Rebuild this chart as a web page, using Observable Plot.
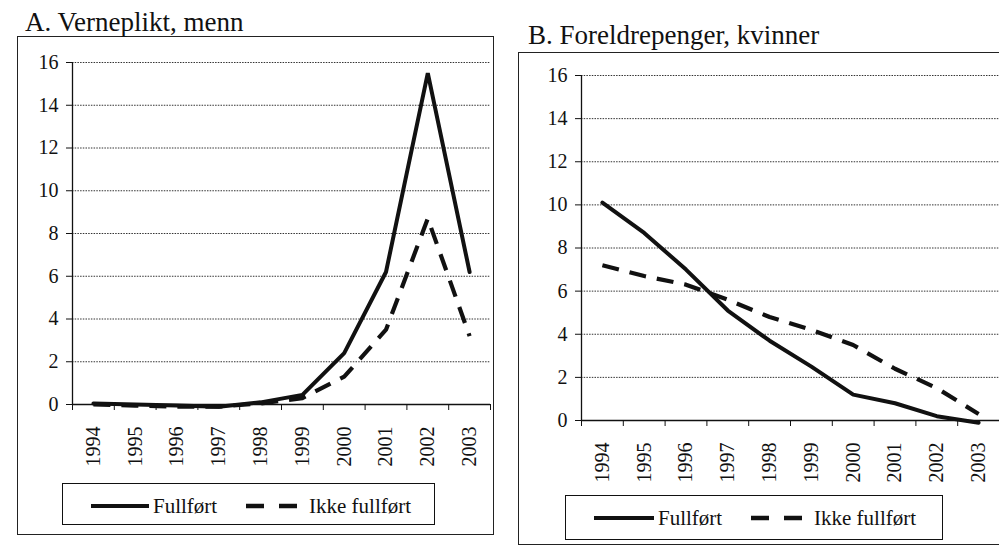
<!DOCTYPE html>
<html><head><meta charset="utf-8">
<script src="https://cdn.jsdelivr.net/npm/d3@7"></script>
<script src="https://cdn.jsdelivr.net/npm/@observablehq/plot@0.6"></script>
<style>
html{overflow:hidden}
html,body{margin:0;padding:0;background:#fff}
body{width:999px;height:548px;overflow:hidden;position:relative;font-family:"Liberation Serif","Times New Roman",serif;color:#111}
.frame{position:absolute;border:1.5px solid #222;box-sizing:border-box}
.title{position:absolute;font-size:27px;line-height:1;white-space:nowrap;font-family:"Liberation Serif",serif}
.plotwrap{position:absolute}
.plotwrap svg text{font-family:"Liberation Serif","Times New Roman",serif}
.legend{position:absolute;border:1.5px solid #111;box-sizing:border-box;background:#fff}
.legend span{position:absolute;font-size:21px;line-height:1;white-space:nowrap;transform:translateY(-50%);font-family:"Liberation Serif","Times New Roman",serif}
.legend svg{position:absolute;left:0;top:0;overflow:visible}
</style></head><body>
<script>
// ---- data ----
const years = [1994, 1995, 1996, 1997, 1998, 1999, 2000, 2001, 2002, 2003];
const vernepliktFullfort = [0.05, 0.0, -0.05, -0.1, 0.1, 0.45, 2.4, 6.2, 15.5, 6.2];
const vernepliktIkkeFullfort = [0.0, -0.05, -0.1, -0.1, 0.05, 0.3, 1.3, 3.5, 8.7, 3.2];
const foreldreFullfort = [10.1, 8.7, 7.0, 5.1, 3.7, 2.5, 1.2, 0.8, 0.2, -0.1];
const foreldreIkkeFullfort = [7.2, 6.7, 6.3, 5.6, 4.8, 4.2, 3.5, 2.4, 1.5, 0.3];
const yTicks = [0, 2, 4, 6, 8, 10, 12, 14, 16];
const seriesNames = ["Fullført", "Ikke fullført"];
const panelTitles = ["A. Verneplikt, menn", "B. Foreldrepenger, kvinner"];

const INK = "#111";
const SERIF = "'Liberation Serif', 'Times New Roman', serif";

function addDiv(cls, css, html) {
  const d = document.createElement("div");
  d.className = cls;
  Object.assign(d.style, css);
  if (html != null) d.innerHTML = html;
  document.body.appendChild(d);
  return d;
}

function makePlot(full, ikke, dims) {
  const rowsFull = years.map((y, i) => ({year: y, value: full[i], serie: seriesNames[0]}));
  const rowsIkke = years.map((y, i) => ({year: y, value: ikke[i], serie: seriesNames[1]}));
  const bounds = years.map(y => y - 0.5).concat([years[years.length - 1] + 0.5]);
  return Plot.plot({
    ...dims,
    style: {"font-family": SERIF, "font-size": "20px", color: INK, background: "transparent", overflow: "visible"},
    x: {type: "linear", domain: [bounds[0], bounds[bounds.length - 1]]},
    y: {domain: [0, 16]},
    marks: [
      Plot.gridY(yTicks, {stroke: "#333", strokeOpacity: 1, strokeWidth: 1, strokeDasharray: "1.5,1.2"}),
      Plot.ruleX([bounds[0]], {y1: 0, y2: 16, stroke: INK, strokeWidth: 1.3}),
      Plot.ruleY([0], {stroke: INK, strokeWidth: 1.3}),
      Plot.axisY({ticks: yTicks, tickSize: 6, tickPadding: 8, label: null, fontSize: 20, fontFamily: SERIF, stroke: INK}),
      Plot.axisX({ticks: bounds, tickSize: 6, tickFormat: () => "", label: null, stroke: INK}),
      Plot.axisX({ticks: years, tickSize: 0, tickPadding: 22, tickRotate: -90, tickFormat: d => String(d), label: null, fontSize: 20, fontFamily: SERIF}),
      Plot.line(rowsIkke, {x: "year", y: "value", stroke: INK, strokeWidth: 4.2, strokeDasharray: "17,11", strokeLinecap: "butt"}),
      Plot.line(rowsFull, {x: "year", y: "value", stroke: INK, strokeWidth: 4, strokeLinejoin: "miter"})
    ]
  });
}

function makeLegend(css, solid, dash, textFull, textIkke, cy) {
  const box = addDiv("legend", css);
  const svgNS = "http://www.w3.org/2000/svg";
  const svg = document.createElementNS(svgNS, "svg");
  svg.setAttribute("width", parseFloat(css.width));
  svg.setAttribute("height", parseFloat(css.height));
  const l1 = document.createElementNS(svgNS, "line");
  l1.setAttribute("x1", solid[0]); l1.setAttribute("x2", solid[1]);
  l1.setAttribute("y1", cy); l1.setAttribute("y2", cy);
  l1.setAttribute("stroke", INK); l1.setAttribute("stroke-width", 4);
  svg.appendChild(l1);
  const l2 = document.createElementNS(svgNS, "line");
  l2.setAttribute("x1", dash[0]); l2.setAttribute("x2", dash[1]);
  l2.setAttribute("y1", cy); l2.setAttribute("y2", cy);
  l2.setAttribute("stroke", INK); l2.setAttribute("stroke-width", 4.5);
  l2.setAttribute("stroke-dasharray", dash[2]);
  svg.appendChild(l2);
  box.appendChild(svg);
  const t1 = document.createElement("span");
  t1.textContent = seriesNames[0];
  Object.assign(t1.style, {left: textFull + "px", top: cy + "px"});
  box.appendChild(t1);
  const t2 = document.createElement("span");
  t2.textContent = seriesNames[1];
  Object.assign(t2.style, {left: textIkke + "px", top: cy + "px"});
  box.appendChild(t2);
}

// ---- frames ----
addDiv("frame", {left: "17px", top: "36px", width: "477px", height: "499px"});
addDiv("frame", {left: "518px", top: "52px", width: "490px", height: "493px"});

// ---- titles ----
addDiv("title", {left: "25px", top: "9px"}, panelTitles[0]);
addDiv("title", {left: "528px", top: "22px"}, panelTitles[1]);

// ---- plots ----
const wA = addDiv("plotwrap", {left: "0px", top: "40px"});
wA.appendChild(makePlot(vernepliktFullfort, vernepliktIkkeFullfort,
  {width: 497, height: 450, marginLeft: 72, marginRight: 7, marginTop: 22, marginBottom: 86}));
const wB = addDiv("plotwrap", {left: "500px", top: "50px"});
wB.appendChild(makePlot(foreldreFullfort, foreldreIkkeFullfort,
  {width: 499, height: 460, marginLeft: 81, marginRight: 0, marginTop: 25, marginBottom: 90}));

// ---- legends ----
makeLegend({left: "62px", top: "483px", width: "373px", height: "42px"}, [28, 86], [183, 235, "18,15"], 90, 246, 22);
makeLegend({left: "565px", top: "495px", width: "378px", height: "45px"}, [28, 88], [185, 238, "18,15"], 92, 248, 22);
</script>
</body></html>
